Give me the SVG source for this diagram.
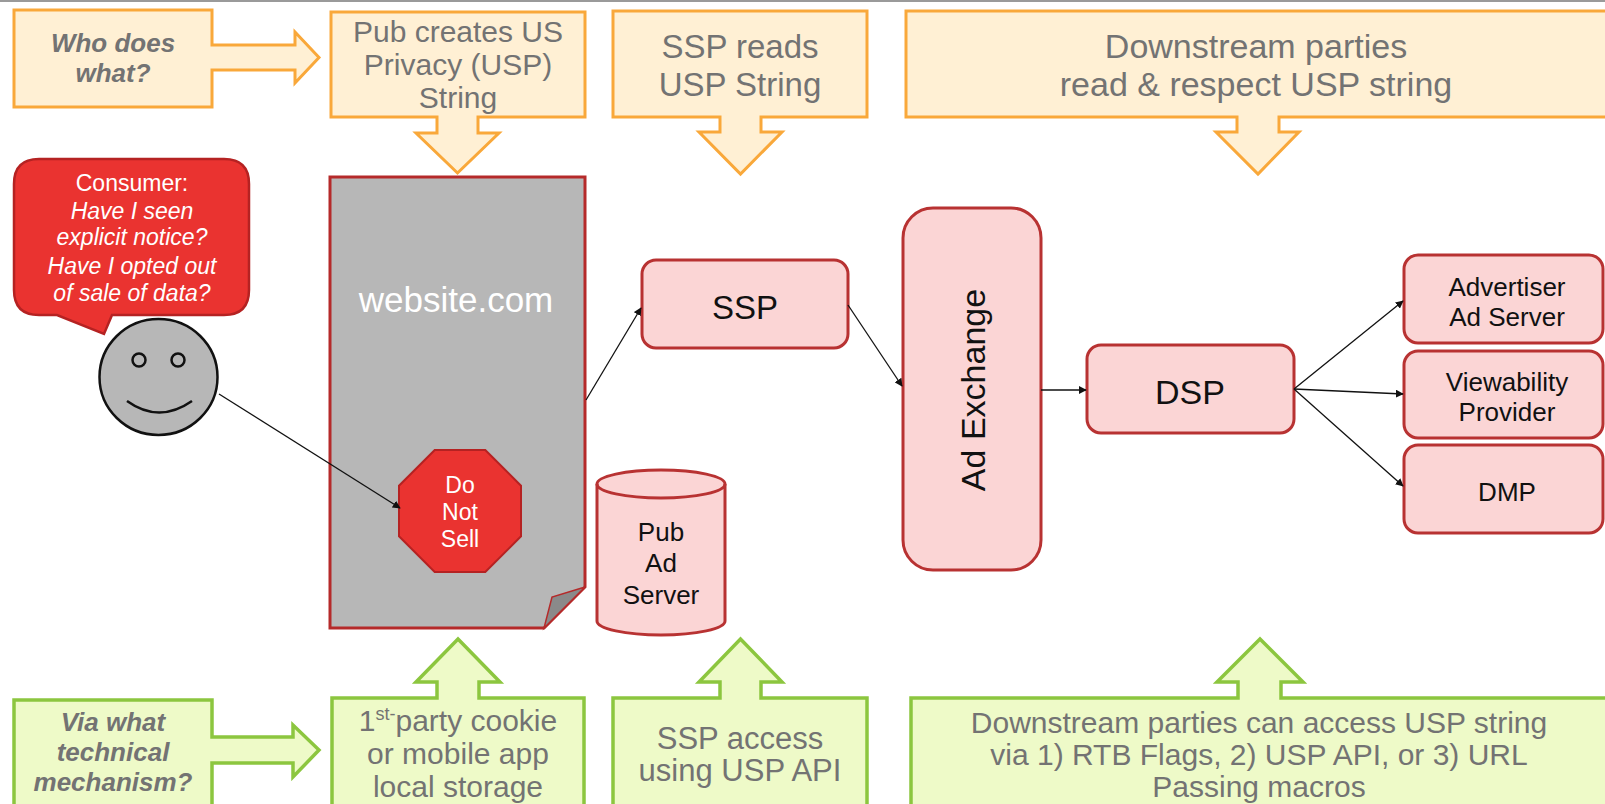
<svg xmlns="http://www.w3.org/2000/svg" width="1605" height="804" viewBox="0 0 1605 804">
<style>
text{font-family:"Liberation Sans",Arial,sans-serif;text-anchor:middle}
.org{fill:#fff0d4;stroke:#f9a83a;stroke-width:3;stroke-linejoin:miter}
.grn{fill:#eefac8;stroke:#8cc63f;stroke-width:3.5}
.lbl{fill:#737373}
.bi{font-weight:bold;font-style:italic}
.pink{fill:#fbd5d5;stroke:#b83232;stroke-width:3}
.wt{fill:#ffffff}
.bk{fill:#111111}
.con{stroke:#111;stroke-width:1.3;fill:none;marker-end:url(#ah)}
</style>
<defs>
<marker id="ah" viewBox="0 0 10 10" refX="9" refY="5" markerWidth="8" markerHeight="8" markerUnits="userSpaceOnUse" orient="auto">
<path d="M0,0 L10,5 L0,10 Z" fill="#111"/>
</marker>
</defs>
<rect x="0" y="0" width="1605" height="804" fill="#ffffff"/>
<rect x="0" y="0" width="1605" height="2" fill="#9a9a9a"/>

<g id="who">
<path class="org" d="M14,10 H212 V45 H295 V32 L319,57.5 L295,83 V70 H212 V107 H14 Z"/>
<text class="lbl bi" font-size="26"><tspan x="113" y="52">Who does</tspan><tspan x="113" y="82">what?</tspan></text>
</g>
<g id="pub-creates">
<path class="org" d="M331,12 H585 V117 H478 V133 H499 L457.5,173 L416,133 H437 V117 H331 Z"/>
<text class="lbl" font-size="30"><tspan x="458" y="42">Pub creates US</tspan><tspan x="458" y="75">Privacy (USP)</tspan><tspan x="458" y="108">String</tspan></text>
</g>
<g id="ssp-reads">
<path class="org" d="M613,11 H867 V117 H761 V132 H782 L740.5,174 L699,132 H720 V117 H613 Z"/>
<text class="lbl" font-size="33"><tspan x="740" y="58">SSP reads</tspan><tspan x="740" y="96">USP String</tspan></text>
</g>
<g id="downstream-read">
<path class="org" d="M906,11 H1620 V117 H1279 V132 H1299 L1258,174 L1216,132 H1237 V117 H906 Z"/>
<text class="lbl" font-size="34"><tspan x="1256" y="58">Downstream parties</tspan><tspan x="1256" y="96">read &amp; respect USP string</tspan></text>
</g>

<g id="via">
<path class="grn" d="M14,700 H212 V737 H293 V725 L319,750 L293,777 V763 H212 V820 H14 Z"/>
<text class="lbl bi" font-size="26"><tspan x="113" y="731">Via what</tspan><tspan x="113" y="761">technical</tspan><tspan x="113" y="791">mechanism?</tspan></text>
</g>
<g id="cookie">
<path class="grn" d="M332,698 H437 V682 H416 L458,639 L500,682 H479 V698 H584 V820 H332 Z"/>
<text class="lbl" font-size="30"><tspan x="458" y="731">1<tspan font-size="18" dy="-11">st-</tspan><tspan dy="11">party cookie</tspan></tspan><tspan x="458" y="764">or mobile app</tspan><tspan x="458" y="797">local storage</tspan></text>
</g>
<g id="ssp-access">
<path class="grn" d="M613,698 H720 V682 H699 L740.5,639 L782,682 H761 V698 H867 V820 H613 Z"/>
<text class="lbl" font-size="31"><tspan x="740" y="749">SSP access</tspan><tspan x="740" y="781">using USP API</tspan></text>
</g>
<g id="downstream-access">
<path class="grn" d="M911,698 H1238 V682 H1217 L1260,639 L1303,682 H1281 V698 H1620 V820 H911 Z"/>
<text class="lbl" font-size="30"><tspan x="1259" y="733">Downstream parties can access USP string</tspan><tspan x="1259" y="765">via 1) RTB Flags, 2) USP API, or 3) URL</tspan><tspan x="1259" y="797">Passing macros</tspan></text>
</g>

<g id="consumer">
<path d="M39,159 H224 Q249,159 249,184 V290 Q249,315 224,315 H112 L104,334 L57,315 H39 Q14,315 14,290 V184 Q14,159 39,159 Z" fill="#ea3330" stroke="#b52222" stroke-width="2.5"/>
<text class="wt" font-size="23"><tspan x="132" y="191">Consumer:</tspan><tspan x="132" y="219" font-style="italic">Have I seen</tspan><tspan x="132" y="245" font-style="italic">explicit notice?</tspan><tspan x="132" y="274" font-style="italic">Have I opted out</tspan><tspan x="132" y="301" font-style="italic">of sale of data?</tspan></text>
</g>
<g id="smiley">
<ellipse cx="158.5" cy="377" rx="59" ry="58" fill="#b7b7b7" stroke="#111" stroke-width="2.5"/>
<circle cx="139" cy="360" r="6.5" fill="none" stroke="#111" stroke-width="2.5"/>
<circle cx="178" cy="360" r="6.5" fill="none" stroke="#111" stroke-width="2.5"/>
<path d="M127,401 Q159,424 192,401" fill="none" stroke="#111" stroke-width="2.5"/>
</g>
<g id="website">
<path d="M330,177 H585 V587 L544,628 H330 Z" fill="#b7b7b7" stroke="#b52a2a" stroke-width="3"/>
<path d="M585,587 L544,628 L552,597 Z" fill="#8a8a8a" stroke="#b52a2a" stroke-width="1.5"/>
<text class="wt" font-size="35" x="456" y="312">website.com</text>
</g>
<g id="do-not-sell">
<polygon points="434.7,450 485.3,450 521,485.7 521,536.3 485.3,572 434.7,572 399,536.3 399,485.7" fill="#ea3330" stroke="#b52222" stroke-width="2"/>
<text class="wt" font-size="23"><tspan x="460" y="493">Do</tspan><tspan x="460" y="520">Not</tspan><tspan x="460" y="547">Sell</tspan></text>
</g>
<g id="pub-ad-server">
<path class="pink" d="M597,484 V621 A64,14 0 0 0 725,621 V484 A64,14 0 0 0 597,484 Z"/>
<path d="M597,484 A64,14 0 0 0 725,484" fill="none" stroke="#b83232" stroke-width="3"/>
<text class="bk" font-size="26"><tspan x="661" y="541">Pub</tspan><tspan x="661" y="572">Ad</tspan><tspan x="661" y="604">Server</tspan></text>
</g>
<g id="ssp">
<rect class="pink" x="642" y="260" width="206" height="88" rx="14"/>
<text class="bk" font-size="33" x="745" y="319">SSP</text>
</g>
<g id="ad-exchange">
<rect class="pink" x="903" y="208" width="138" height="362" rx="30"/>
<text class="bk" font-size="34" x="973" y="402" transform="rotate(-90 973 390)">Ad Exchange</text>
</g>
<g id="dsp">
<rect class="pink" x="1087" y="345" width="207" height="88" rx="14"/>
<text class="bk" font-size="34" x="1190" y="404">DSP</text>
</g>
<g id="advertiser">
<rect class="pink" x="1404" y="255" width="199" height="88" rx="14"/>
<text class="bk" font-size="26"><tspan x="1507" y="296">Advertiser</tspan><tspan x="1507" y="326">Ad Server</tspan></text>
</g>
<g id="viewability">
<rect class="pink" x="1404" y="351" width="199" height="87" rx="14"/>
<text class="bk" font-size="26"><tspan x="1507" y="391">Viewability</tspan><tspan x="1507" y="421">Provider</tspan></text>
</g>
<g id="dmp">
<rect class="pink" x="1404" y="445" width="199" height="88" rx="14"/>
<text class="bk" font-size="26" x="1507" y="501">DMP</text>
</g>

<g id="connectors">
<line class="con" x1="219" y1="394" x2="400" y2="508"/>
<line class="con" x1="586" y1="400" x2="641" y2="308"/>
<line class="con" x1="848" y1="305" x2="902" y2="386"/>
<line class="con" x1="1041" y1="390" x2="1086" y2="390"/>
<line class="con" x1="1294" y1="389" x2="1403" y2="301"/>
<line class="con" x1="1294" y1="389" x2="1403" y2="394"/>
<line class="con" x1="1294" y1="389" x2="1403" y2="486"/>
</g>
</svg>
